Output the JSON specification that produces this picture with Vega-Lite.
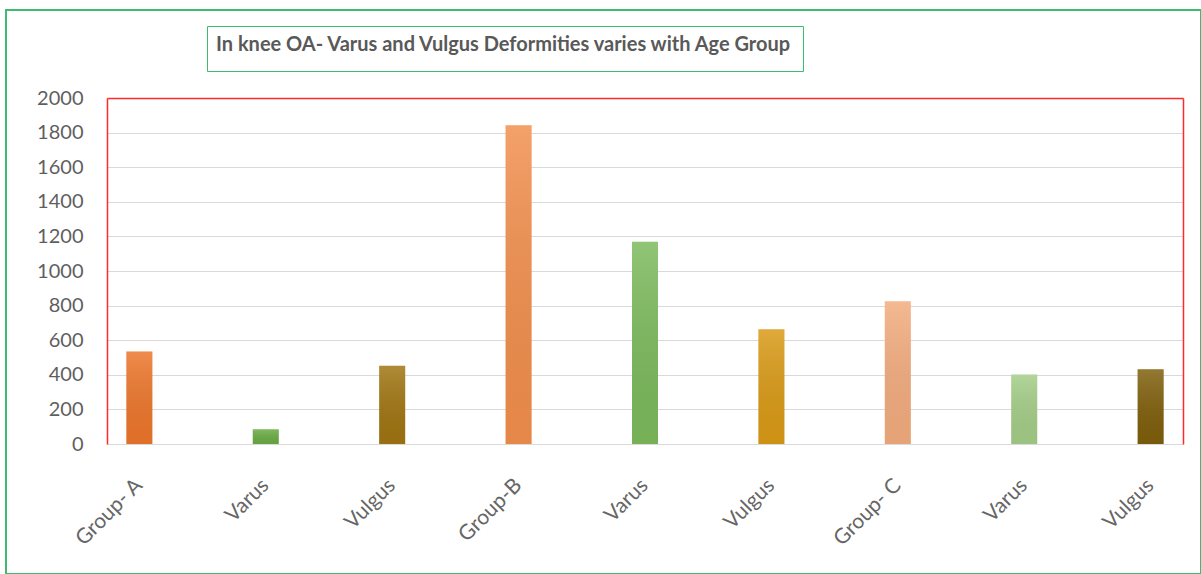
{
  "$schema": "https://vega.github.io/schema/vega-lite/v6.json",
  "width": 1195,
  "height": 564,
  "autosize": {"type": "none"},
  "padding": {"left": 6, "top": 10, "right": 0, "bottom": 0},
  "background": "white",
  "config": {
    "view": {"stroke": "#3DBB6E", "strokeWidth": 2, "fill": "white"},
    "font": "Lato"
  },
  "data": {
    "values": [
      {"key": "A|Group- A", "value": 535},
      {"key": "A|Varus", "value": 85},
      {"key": "A|Vulgus", "value": 452},
      {"key": "B|Group-B", "value": 1843},
      {"key": "B|Varus", "value": 1169},
      {"key": "B|Vulgus", "value": 663},
      {"key": "C|Group- C", "value": 825},
      {"key": "C|Varus", "value": 402},
      {"key": "C|Vulgus", "value": 432}
    ]
  },
  "layer": [
    {
      "mark": {"type": "bar"},
      "encoding": {
        "x": {
          "field": "key",
          "type": "nominal",
          "sort": null,
          "scale": {"range": [101, 1177], "paddingInner": 0.794, "paddingOuter": 0.153},
          "axis": {
            "orient": "bottom",
            "offset": -130,
            "title": null,
            "labelExpr": "split(datum.value, '|')[1]",
            "labelAngle": -45,
            "labelAlign": "right",
            "labelBaseline": "middle",
            "labelPadding": 38,
            "labelFontSize": 21,
            "labelColor": "#666666",
            "ticks": false,
            "grid": false,
            "domainColor": "#D9D9D9",
            "domainWidth": 1
          }
        },
        "y": {
          "field": "value",
          "type": "quantitative",
          "scale": {"domain": [0, 2000], "range": [434, 88], "nice": false},
          "axis": {
            "orient": "left",
            "offset": -101,
            "title": null,
            "format": "d",
            "values": [0, 200, 400, 600, 800, 1000, 1200, 1400, 1600, 1800, 2000],
            "labelFontSize": 20,
            "labelColor": "#5F5F5F",
            "ticks": false,
            "labelPadding": 24,
            "domainColor": "#FF2A2A",
            "domainWidth": 1.5,
            "gridColor": "#D9D9D9",
            "gridWidth": 1
          }
        },
        "color": {
          "field": "key",
          "type": "nominal",
          "sort": null,
          "legend": null,
          "scale": {
            "domain": ["A|Group- A", "A|Varus", "A|Vulgus", "B|Group-B", "B|Varus", "B|Vulgus", "C|Group- C", "C|Varus", "C|Vulgus"],
            "range": ["#EC762B", "#6AAC44", "#A07512", "#F28F4D", "#7CBA5C", "#D99A16", "#F3AC7E", "#A4CD88", "#7F5F0C"]
          }
        }
      }
    },
    {
      "mark": {
        "type": "bar",
        "fill": {
          "gradient": "linear",
          "x1": 0, "y1": 0, "x2": 0, "y2": 1,
          "stops": [
            {"offset": 0, "color": "rgba(255,255,255,0.16)"},
            {"offset": 1, "color": "rgba(0,0,0,0.05)"}
          ]
        }
      },
      "encoding": {
        "x": {"field": "key", "type": "nominal", "sort": null, "axis": null},
        "y": {"field": "value", "type": "quantitative", "axis": null}
      }
    },
    {
      "mark": {"type": "bar", "fillOpacity": 0, "strokeOpacity": 0},
      "encoding": {
        "x": {
          "field": "key",
          "type": "nominal",
          "sort": null,
          "axis": {
            "orient": "top",
            "offset": -88,
            "title": null,
            "labels": false,
            "ticks": false,
            "grid": false,
            "domainColor": "#FF2A2A",
            "domainWidth": 1.5
          }
        },
        "y": {
          "field": "value",
          "type": "quantitative",
          "axis": {
            "orient": "right",
            "offset": -18,
            "title": null,
            "labels": false,
            "ticks": false,
            "grid": false,
            "domainColor": "#FF2A2A",
            "domainWidth": 1.5
          }
        },
        "opacity": {
          "datum": "t",
          "type": "nominal",
          "scale": {"range": [0]},
          "legend": {
            "title": "In knee OA- Varus and Vulgus Deformities varies with Age Group",
            "orient": "none",
            "legendX": 201,
            "legendY": 16,
            "strokeColor": "#3DBB6E",
            "fillColor": "white",
            "padding": 9,
            "titleFont": "Lato",
            "titleFontSize": 20,
            "titleFontWeight": "bold",
            "titleColor": "#595959",
            "titleLimit": 1000,
            "titlePadding": 2,
            "symbolSize": 0,
            "symbolOpacity": 0,
            "symbolStrokeWidth": 0,
            "labelFontSize": 0,
            "labelExpr": "''"
          }
        }
      }
    }
  ],
  "resolve": {"axis": {"x": "independent", "y": "independent"}}
}
